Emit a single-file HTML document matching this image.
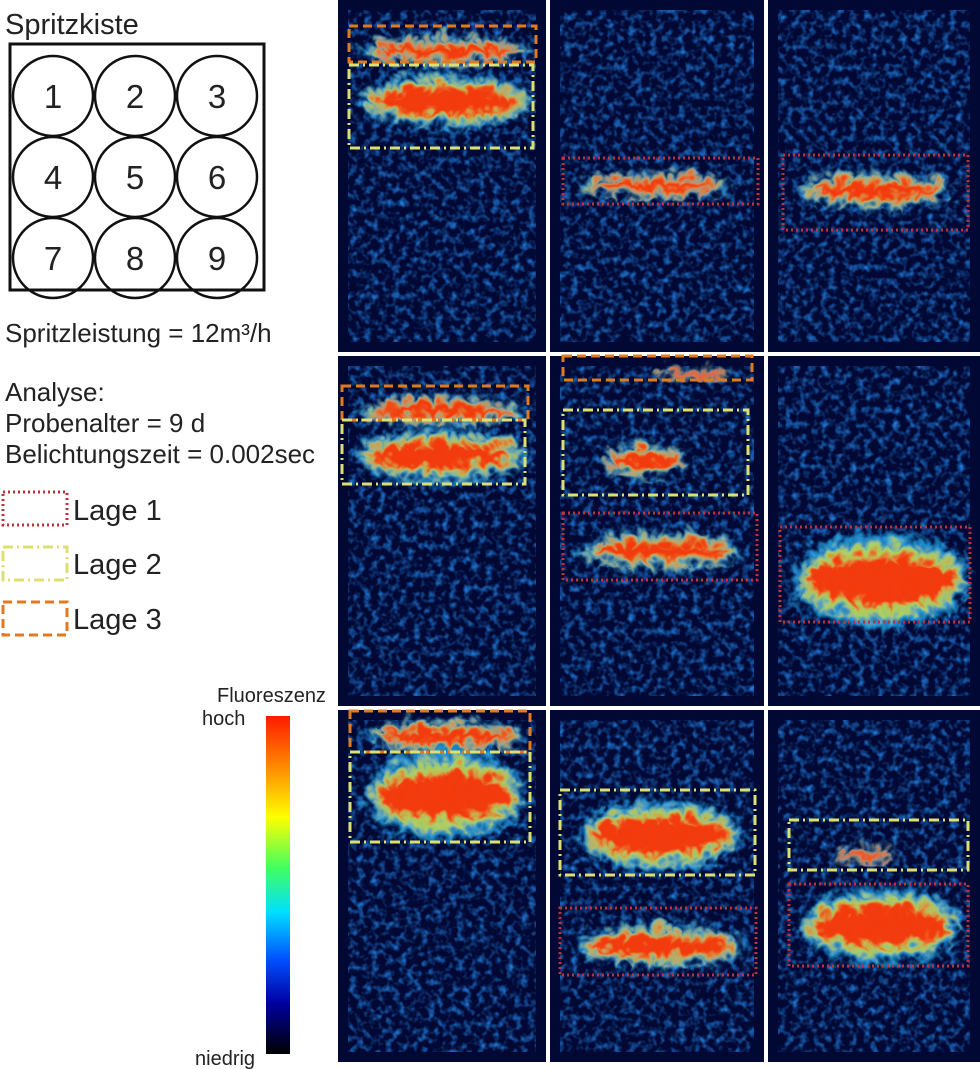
<!DOCTYPE html>
<html><head><meta charset="utf-8"><style>
body{margin:0;background:#fff;width:980px;height:1069px;overflow:hidden}
svg{display:block}
text{font-family:"Liberation Sans",sans-serif;fill:#222}
</style></head><body>
<svg width="980" height="1069" viewBox="0 0 980 1069">
<defs>
<linearGradient id="cb" x1="0" y1="0" x2="0" y2="1">
<stop offset="0" stop-color="#ff1a00"/><stop offset="0.15" stop-color="#ff8a00"/><stop offset="0.3" stop-color="#ffff00"/>
<stop offset="0.45" stop-color="#40ff60"/><stop offset="0.58" stop-color="#00e0ff"/><stop offset="0.72" stop-color="#0050ff"/>
<stop offset="0.85" stop-color="#0000a0"/><stop offset="1" stop-color="#000000"/></linearGradient>
<filter id="tex" x="0" y="0" width="100%" height="100%">
<feTurbulence type="fractalNoise" baseFrequency="0.14" numOctaves="2" seed="3"/>
<feColorMatrix values="0 0 0 0 0.02  0 0 0 0 0.3  0 0 0 0 1  0 0 0 1.8 -0.8"/>
<feComposite in2="SourceGraphic" operator="in"/>
</filter>
<filter id="blur" x="-20%" y="-40%" width="140%" height="180%">
<feGaussianBlur stdDeviation="3" result="b"/>
<feTurbulence type="turbulence" baseFrequency="0.06" numOctaves="2" seed="7" result="n"/>
<feDisplacementMap in="b" in2="n" scale="22" xChannelSelector="R" yChannelSelector="G"/>
</filter>
</defs>
<g>
<text x="5" y="34" font-size="29">Spritzkiste</text>
<rect x="10" y="44" width="254" height="246" fill="none" stroke="#111" stroke-width="3"/>
<g id="circles"></g>
<text x="5" y="342" font-size="26">Spritzleistung = 12m³/h</text>
<text x="5" y="401" font-size="26">Analyse:</text>
<text x="5" y="432" font-size="26">Probenalter = 9 d</text>
<text x="5" y="463" font-size="26">Belichtungszeit = 0.002sec</text>
<rect x="3" y="492" width="64" height="33" fill="none" stroke="#c0303a" stroke-width="3" stroke-dasharray="2 3"/>
<text x="73" y="520" font-size="29">Lage 1</text>
<rect x="3" y="547" width="64" height="33" fill="none" stroke="#dde070" stroke-width="3" stroke-dasharray="10 4 2 4"/>
<text x="73" y="574" font-size="29">Lage 2</text>
<rect x="3" y="602" width="64" height="33" fill="none" stroke="#e07a20" stroke-width="3" stroke-dasharray="9 5"/>
<text x="73" y="629" font-size="29">Lage 3</text>
<text x="217" y="702" font-size="20">Fluoreszenz</text>
<text x="202" y="725" font-size="20">hoch</text>
<rect x="266" y="716" width="24" height="338" fill="url(#cb)"/>
<text x="195" y="1065" font-size="20">niedrig</text>
</g>
<g id="panels"></g>
</svg>
<script>
const NS="http://www.w3.org/2000/svg";
function mk(tag,attrs,parent){const e=document.createElementNS(NS,tag);for(const k in attrs)e.setAttribute(k,attrs[k]);parent.appendChild(e);return e;}
const circ=document.getElementById('circles');
for(let i=0;i<9;i++){const cx=53+(i%3)*82,cy=96+Math.floor(i/3)*81;
const c=mk('circle',{cx:cx,cy:cy,r:40,fill:'none',stroke:'#111','stroke-width':2.5},circ);


const t=mk('text',{x:cx,y:cy+12,'font-size':33,'text-anchor':'middle'},circ);t.textContent=i+1;

}
const cols=[[338,546],[550,764],[768,980]], rows=[[0,352],[356,706],[710,1062]];
const heat=[
 [[440,45,85,10],[440,95,85,18]],
 [[650,180,75,9]],
 [[870,185,75,12]],
 [[435,405,85,10],[435,450,85,18]],
 [[690,369,35,5],[640,455,40,12],[655,545,80,13]],
 [[875,575,88,32]],
 [[440,730,80,11],[440,790,80,30]],
 [[655,830,80,24],[655,940,85,14]],
 [[860,850,30,6],[875,920,80,26]]];
const boxes=[
 [[349,26,187,36,'o'],[349,65,184,83,'y']],
 [[563,158,195,46,'r']],
 [[783,155,185,75,'r']],
 [[342,386,186,34,'o'],[342,420,183,64,'y']],
 [[563,356,189,24,'o'],[563,410,185,85,'y'],[563,513,194,67,'r']],
 [[780,527,190,95,'r']],
 [[350,711,180,41,'o'],[350,752,180,90,'y']],
 [[560,790,195,85,'y'],[560,908,196,67,'r']],
 [[789,820,179,50,'y'],[789,884,179,82,'r']]];
const sty={o:['#e07a20','9 5'],y:['#dde070','10 4 2 4'],r:['#c0303a','2 3']};
const P=document.getElementById('panels');
for(let r=0;r<3;r++)for(let c=0;c<3;c++){const k=r*3+c,[x0,x1]=cols[c],[y0,y1]=rows[r];
const g=mk('g',{},P);
mk('rect',{x:x0,y:y0,width:x1-x0,height:y1-y0,fill:'#010834'},g);
mk('rect',{x:x0+10,y:y0+10,width:x1-x0-20,height:y1-y0-20,fill:'#0a2ab0',filter:'url(#tex)'},g);
heat[k].forEach(h=>{const hg=mk('g',{filter:'url(#blur)'},g);
mk('ellipse',{cx:h[0],cy:h[1],rx:h[2],ry:h[3]*1.5,fill:'#20b0f0',opacity:0.75},hg);
mk('ellipse',{cx:h[0],cy:h[1],rx:h[2]*0.92,ry:h[3]*1.15,fill:'#e8f030',opacity:0.7},hg);
mk('ellipse',{cx:h[0],cy:h[1],rx:h[2]*0.85,ry:h[3]*0.8,fill:'#ff2000',opacity:0.85},hg);});
boxes[k].forEach(b=>{const s=sty[b[4]];
const e=mk('rect',{x:b[0],y:b[1],width:b[2],height:b[3],fill:'none',stroke:s[0],'stroke-width':3,'stroke-dasharray':s[1]},g);

});}
</script>
</body></html>
